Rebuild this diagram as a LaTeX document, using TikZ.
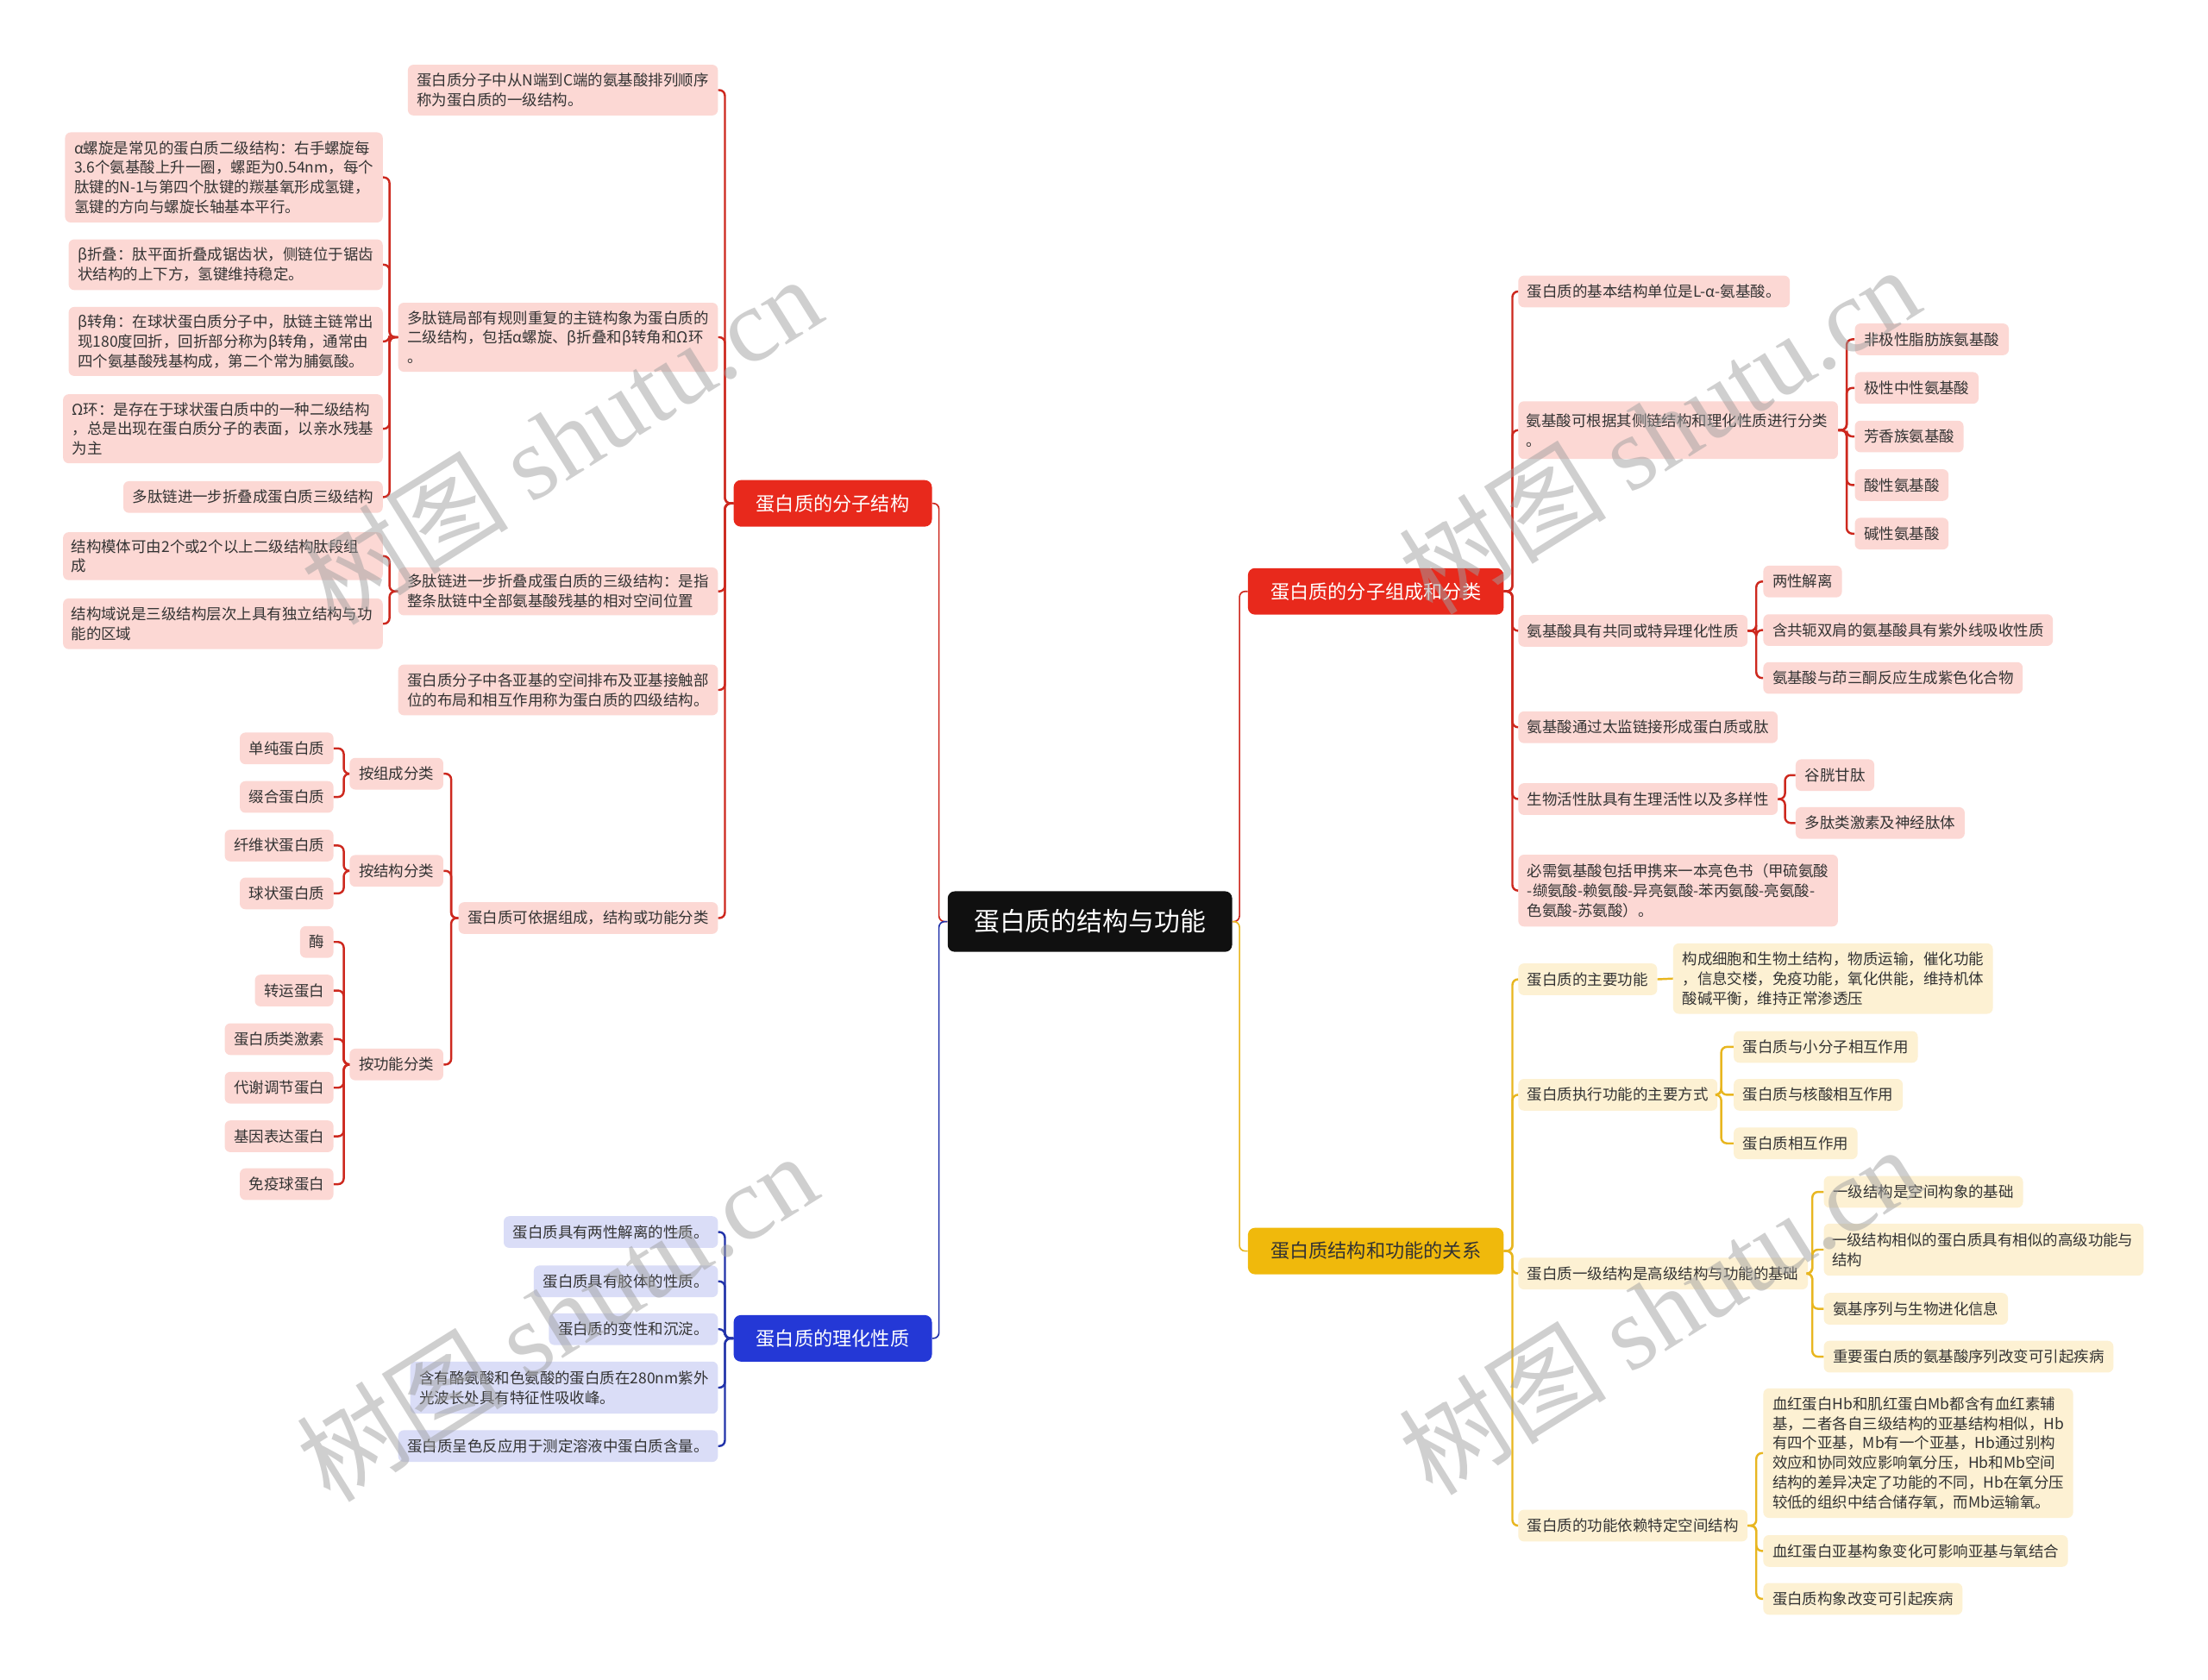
\documentclass[tikz,border=0pt]{standalone}
\usepackage{fontspec}
\setmainfont{Noto Sans CJK SC}
\newfontfamily\wmfont{Liberation Serif}
\definecolor{txt}{RGB}{51,51,51}
\definecolor{mred}{RGB}{232,41,28}
\definecolor{mblue}{RGB}{36,56,214}
\definecolor{myel}{RGB}{240,185,12}
\definecolor{mroot}{RGB}{16,16,16}
\definecolor{pinkf}{RGB}{252,216,212}
\definecolor{bluef}{RGB}{218,221,247}
\definecolor{yelf}{RGB}{253,241,211}
\definecolor{redl}{RGB}{205,40,30}
\definecolor{bluel}{RGB}{35,52,170}
\definecolor{yell}{RGB}{232,182,32}
\definecolor{wmc}{RGB}{160,160,160}
\tikzset{
  box/.style={rounded corners=4pt, inner xsep=6.5pt, inner ysep=4pt, align=left,
    font=\fontsize{10.7}{14}\selectfont, text=txt, minimum height=22.5pt},
  pk/.style={box, fill=pinkf},
  bl/.style={box, fill=bluef},
  yl/.style={box, fill=yelf},
  lft/.style={anchor=east},
  rgt/.style={anchor=west},
  mh/.style={minimum height=#1},
  tw/.style={text width=215.5pt, inner xsep=5.75pt},
  mainbox/.style={rounded corners=5pt, minimum height=33pt, inner xsep=16pt,
    font=\fontsize{13.6}{16}\selectfont, text=white},
  rootbox/.style={rounded corners=5pt, minimum height=43pt, minimum width=202pt,
    fill=mroot, font=\fontsize{18.3}{20}\selectfont, text=white},
  rl/.style={draw=redl, line width=1.5pt, rounded corners=4pt},
  bll/.style={draw=bluel, line width=1.5pt, rounded corners=4pt},
  yll/.style={draw=yell, line width=1.5pt, rounded corners=4pt},
  wm/.style={text=wmc, opacity=0.5, rotate=32, font=\fontsize{74}{74}\selectfont}
}
\begin{document}
\begin{tikzpicture}[x=1pt,y=-1pt]
\fill[white] (0,0) rectangle (1568,1193);
\useasboundingbox (0,0) rectangle (1568,1193);

% root and main branches
\node[rootbox] (root) at (774,654.5) {蛋白质的结构与功能};
\node[mainbox, fill=mred, anchor=east] (L1) at (662,357.5) {蛋白质的分子结构};
\node[mainbox, fill=mblue, anchor=east] (L2) at (662,950.5) {蛋白质的理化性质};
\node[mainbox, fill=mred, anchor=west] (R1) at (886,420) {蛋白质的分子组成和分类};
\node[mainbox, fill=myel, anchor=west, text=txt] (R2) at (886,888.5) {蛋白质结构和功能的关系};

\draw[draw=redl, line width=1pt, rounded corners=4pt] (root.west) -- ++(-6,0) |- (L1.east);
\draw[draw=bluel, line width=1pt, rounded corners=4pt] (root.west) -- ++(-6,0) |- (L2.east);
\draw[draw=redl, line width=1pt, rounded corners=4pt] (root.east) -- ++(5,0) |- (R1.west);
\draw[draw=yell, line width=1pt, rounded corners=4pt] (root.east) -- ++(5,0) |- (R2.west);

% ---------- 蛋白质的分子结构 ----------
\node[pk,lft,mh=36] (a1) at (510,64) {蛋白质分子中从N端到C端的氨基酸排列顺序\\称为蛋白质的一级结构。};
\node[pk,lft,mh=49] (a2) at (510,239.5) {多肽链局部有规则重复的主链构象为蛋白质的\\二级结构，包括α螺旋、β折叠和β转角和Ω环\\。};
\node[pk,lft,mh=34] (a3) at (510,420) {多肽链进一步折叠成蛋白质的三级结构：是指\\整条肽链中全部氨基酸残基的相对空间位置};
\node[pk,lft,mh=36] (a4) at (510,490) {蛋白质分子中各亚基的空间排布及亚基接触部\\位的布局和相互作用称为蛋白质的四级结构。};
\node[pk,lft] (a5) at (510,652) {蛋白质可依据组成，结构或功能分类};
\foreach \c in {a1,a2,a3,a4,a5} \draw[rl] (L1.west) -- ++(-6,0) |- (\c.east);

\node[pk,lft,mh=64] (b1) at (272,126) {α螺旋是常见的蛋白质二级结构：右手螺旋每\\3.6个氨基酸上升一圈，螺距为0.54nm，每个\\肽键的N-1与第四个肽键的羰基氧形成氢键，\\氢键的方向与螺旋长轴基本平行。};
\node[pk,lft,mh=36] (b2) at (272,188) {β折叠：肽平面折叠成锯齿状，侧链位于锯齿\\状结构的上下方，氢键维持稳定。};
\node[pk,lft,mh=49] (b3) at (272,242.5) {β转角：在球状蛋白质分子中，肽链主链常出\\现180度回折，回折部分称为β转角，通常由\\四个氨基酸残基构成，第二个常为脯氨酸。};
\node[pk,lft,mh=49] (b4) at (272,304.5) {Ω环：是存在于球状蛋白质中的一种二级结构\\，总是出现在蛋白质分子的表面，以亲水残基\\为主};
\node[pk,lft] (b5) at (272,353) {多肽链进一步折叠成蛋白质三级结构};
\foreach \c in {b1,b2,b3,b4,b5} \draw[rl] (a2.west) -- ++(-6,0) |- (\c.east);

\node[pk,lft,tw,mh=34] (b6) at (272,395) {结构模体可由2个或2个以上二级结构肽段组\\成};
\node[pk,lft,tw,mh=36] (b7) at (272,443) {结构域说是三级结构层次上具有独立结构与功\\能的区域};
\foreach \c in {b6,b7} \draw[rl] (a3.west) -- ++(-6,0) |- (\c.east);

\node[pk,lft] (c1) at (315,549.5) {按组成分类};
\node[pk,lft] (c2) at (315,618.5) {按结构分类};
\node[pk,lft] (c3) at (315,756) {按功能分类};
\foreach \c in {c1,c2,c3} \draw[rl] (a5.west) -- ++(-5,0) |- (\c.east);

\node[pk,lft] (d1) at (237,531.5) {单纯蛋白质};
\node[pk,lft] (d2) at (237,566) {缀合蛋白质};
\foreach \c in {d1,d2} \draw[rl] (c1.west) -- ++(-4,0) |- (\c.east);
\node[pk,lft] (d3) at (237,600.5) {纤维状蛋白质};
\node[pk,lft] (d4) at (237,634.5) {球状蛋白质};
\foreach \c in {d3,d4} \draw[rl] (c2.west) -- ++(-4,0) |- (\c.east);
\node[pk,lft] (d5) at (237,669) {酶};
\node[pk,lft] (d6) at (237,703.5) {转运蛋白};
\node[pk,lft] (d7) at (237,738) {蛋白质类激素};
\node[pk,lft] (d8) at (237,772.5) {代谢调节蛋白};
\node[pk,lft] (d9) at (237,807) {基因表达蛋白};
\node[pk,lft] (d10) at (237,841) {免疫球蛋白};
\foreach \c in {d5,d6,d7,d8,d9,d10} \draw[rl] (c3.west) -- ++(-4,0) |- (\c.east);

% ---------- 蛋白质的理化性质 ----------
\node[bl,lft] (e1) at (510,875) {蛋白质具有两性解离的性质。};
\node[bl,lft] (e2) at (510,910) {蛋白质具有胶体的性质。};
\node[bl,lft] (e3) at (510,944) {蛋白质的变性和沉淀。};
\node[bl,lft,mh=37] (e4) at (510,985.5) {含有酪氨酸和色氨酸的蛋白质在280nm紫外\\光波长处具有特征性吸收峰。};
\node[bl,lft] (e5) at (510,1027) {蛋白质呈色反应用于测定溶液中蛋白质含量。};
\foreach \c in {e1,e2,e3,e4,e5} \draw[bll] (L2.west) -- ++(-6,0) |- (\c.east);

% ---------- 蛋白质的分子组成和分类 ----------
\node[pk,rgt] (r1) at (1078,207) {蛋白质的基本结构单位是L-α-氨基酸。};
\node[pk,rgt,tw,mh=41] (r2) at (1078,305.5) {氨基酸可根据其侧链结构和理化性质进行分类\\。};
\node[pk,rgt] (r3) at (1078,448) {氨基酸具有共同或特异理化性质};
\node[pk,rgt] (r4) at (1078,516.5) {氨基酸通过太监链接形成蛋白质或肽};
\node[pk,rgt] (r5) at (1078,567.5) {生物活性肽具有生理活性以及多样性};
\node[pk,rgt,mh=51] (r6) at (1078,632.5) {必需氨基酸包括甲携来一本亮色书（甲硫氨酸\\-缬氨酸-赖氨酸-异亮氨酸-苯丙氨酸-亮氨酸-\\色氨酸-苏氨酸）。};
\foreach \c in {r1,r2,r3,r4,r5,r6} \draw[rl] (R1.east) -- ++(6,0) |- (\c.west);

\node[pk,rgt] (s1) at (1317,241) {非极性脂肪族氨基酸};
\node[pk,rgt] (s2) at (1317,275.5) {极性中性氨基酸};
\node[pk,rgt] (s3) at (1317,310) {芳香族氨基酸};
\node[pk,rgt] (s4) at (1317,344.5) {酸性氨基酸};
\node[pk,rgt] (s5) at (1317,379) {碱性氨基酸};
\foreach \c in {s1,s2,s3,s4,s5} \draw[rl] (r2.east) -- ++(6,0) |- (\c.west);

\node[pk,rgt] (t1) at (1252,413) {两性解离};
\node[pk,rgt] (t2) at (1252,447.5) {含共轭双肩的氨基酸具有紫外线吸收性质};
\node[pk,rgt] (t3) at (1252,481.5) {氨基酸与茚三酮反应生成紫色化合物};
\foreach \c in {t1,t2,t3} \draw[rl] (r3.east) -- ++(6,0) |- (\c.west);

\node[pk,rgt] (u1) at (1275,550.5) {谷胱甘肽};
\node[pk,rgt] (u2) at (1275,584.5) {多肽类激素及神经肽体};
\foreach \c in {u1,u2} \draw[rl] (r5.east) -- ++(5,0) |- (\c.west);

% ---------- 蛋白质结构和功能的关系 ----------
\node[yl,rgt] (y1) at (1078,695.5) {蛋白质的主要功能};
\node[yl,rgt] (y2) at (1078,777.5) {蛋白质执行功能的主要方式};
\node[yl,rgt] (y3) at (1078,904.5) {蛋白质一级结构是高级结构与功能的基础};
\node[yl,rgt] (y4) at (1078,1083.5) {蛋白质的功能依赖特定空间结构};
\foreach \c in {y1,y2,y3,y4} \draw[yll] (R2.east) -- ++(6,0) |- (\c.west);

\node[yl,rgt,mh=50] (v1) at (1188,695) {构成细胞和生物土结构，物质运输，催化功能\\，信息交楼，免疫功能，氧化供能，维持机体\\酸碱平衡，维持正常渗透压};
\draw[yll] (y1.east) -- (v1.west);

\node[yl,rgt] (w1) at (1231,743.5) {蛋白质与小分子相互作用};
\node[yl,rgt] (w2) at (1231,777.5) {蛋白质与核酸相互作用};
\node[yl,rgt] (w3) at (1231,812) {蛋白质相互作用};
\foreach \c in {w1,w2,w3} \draw[yll] (y2.east) -- ++(2.5,0) |- (\c.west);

\node[yl,rgt] (x1) at (1295,846.5) {一级结构是空间构象的基础};
\node[yl,rgt,tw,mh=37] (x2) at (1295,887.5) {一级结构相似的蛋白质具有相似的高级功能与\\结构};
\node[yl,rgt] (x3) at (1295,929.5) {氨基序列与生物进化信息};
\node[yl,rgt] (x4) at (1295,963.5) {重要蛋白质的氨基酸序列改变可引起疾病};
\foreach \c in {x1,x2,x3,x4} \draw[yll] (y3.east) -- ++(3,0) |- (\c.west);

\node[yl,rgt,mh=92] (z1) at (1252,1032) {血红蛋白Hb和肌红蛋白Mb都含有血红素辅\\基，二者各自三级结构的亚基结构相似，Hb\\有四个亚基，Mb有一个亚基，Hb通过别构\\效应和协同效应影响氧分压，Hb和Mb空间\\结构的差异决定了功能的不同，Hb在氧分压\\较低的组织中结合储存氧，而Mb运输氧。};
\node[yl,rgt] (z2) at (1252,1101.5) {血红蛋白亚基构象变化可影响亚基与氧结合};
\node[yl,rgt] (z3) at (1252,1135.5) {蛋白质构象改变可引起疾病};
\foreach \c in {z1,z2,z3} \draw[yll] (y4.east) -- ++(6,0) |- (\c.west);

% watermarks
\node[wm] (wm1) at (398,312) {树图 {\wmfont shutu.cn}};
\node[wm] (wm2) at (395,935) {树图 {\wmfont shutu.cn}};
\node[wm] (wm3) at (1178,305) {树图 {\wmfont shutu.cn}};
\node[wm] (wm4) at (1178,930) {树图 {\wmfont shutu.cn}};
\end{tikzpicture}
\end{document}
